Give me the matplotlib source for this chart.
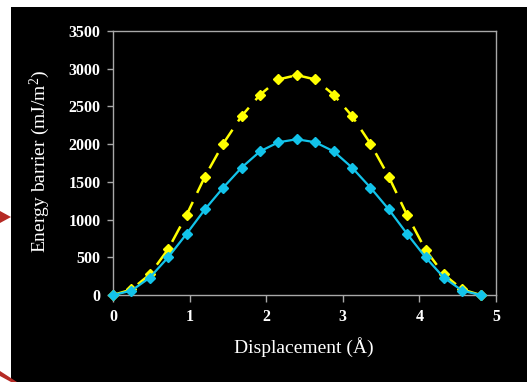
import matplotlib
matplotlib.use("Agg")
import matplotlib.pyplot as plt
from matplotlib.patches import Rectangle, Polygon

plt.rcParams["mathtext.fontset"] = "custom"
plt.rcParams["mathtext.rm"] = "Liberation Serif"
plt.rcParams["mathtext.default"] = "rm"

# displacement (Angstrom)
displacement = [0.0, 0.24, 0.48, 0.72, 0.96, 1.2, 1.44, 1.68, 1.92, 2.16, 2.4,
                2.64, 2.88, 3.12, 3.36, 3.6, 3.84, 4.08, 4.32, 4.56, 4.8]
# energy barrier (mJ/m^2)
barrier_yellow = [0, 73, 272, 608, 1060, 1570, 2008, 2374, 2655, 2858, 2915,
                  2858, 2655, 2374, 2008, 1568, 1058, 600, 272, 73, 0]
barrier_blue = [0, 57, 230, 500, 810, 1135, 1425, 1690, 1905, 2025, 2065,
                2025, 1905, 1690, 1425, 1135, 810, 500, 230, 57, 0]

xticks = [0, 1, 2, 3, 4, 5]
yticks = [0, 500, 1000, 1500, 2000, 2500, 3000, 3500]

W, H = 527, 382
fig = plt.figure(figsize=(W / 100, H / 100), dpi=100, facecolor="white")

# slide background bits
fig.patches.append(Rectangle((11 / W, 0), 1, 1 - 7 / H, transform=fig.transFigure,
                             facecolor="black", edgecolor="none", zorder=-5))
fig.patches.append(Polygon([(0, 1 - 211 / H), (11 / W, 1 - 217 / H), (0, 1 - 223 / H)],
                           closed=True, transform=fig.transFigure,
                           facecolor="#b52a25", edgecolor="none", zorder=-4))
fig.patches.append(Polygon([(0, 1 - 371 / H), (17 / W, 0), (11 / W, 0), (0, 1 - 376 / H)],
                           closed=True, transform=fig.transFigure,
                           facecolor="#b52a25", edgecolor="none", zorder=-4))

ax = fig.add_axes([113 / W, 1 - 295 / H, 383 / W, 264 / H])
ax.set_facecolor("black")

ax.plot(displacement, barrier_yellow, color="#ffff00", linestyle=(0, (7, 4)), linewidth=1.8,
        marker="D", markersize=5.5, markerfacecolor="#ffff00", markeredgecolor="#ffff00",
        clip_on=False, zorder=3)
ax.plot(displacement, barrier_blue, color="#12c3ea", linestyle="-", linewidth=1.6,
        marker="D", markersize=5.5, markerfacecolor="#12c3ea", markeredgecolor="#12c3ea",
        clip_on=False, zorder=4)

ax.set_xlim(0, 5)
ax.set_ylim(0, 3500)
ax.set_xticks(xticks)
ax.set_yticks(yticks)

for s in ax.spines.values():
    s.set_color("#a8a8a8")
    s.set_linewidth(1.0)

ax.tick_params(axis="both", colors="#a8a8a8", direction="out", length=4, width=1,
               labelcolor="white", labelsize=11.5)
ax.tick_params(axis="x", length=5, pad=5)
ax.tick_params(axis="y", pad=5)
for lab in ax.get_xticklabels() + ax.get_yticklabels():
    lab.set_fontfamily("Liberation Serif")
    lab.set_fontweight("bold")

fig.text(304 / W, 1 - 347 / H, "Displacement (Å)", color="white", fontsize=14,
         family="Liberation Serif", ha="center", va="center")
fig.text(40 / W, 1 - 161 / H, "Energy barrier (mJ/m$^{2}$)", color="white", fontsize=14,
         family="Liberation Serif", ha="center", va="center", rotation=90)

fig.savefig("out.png", dpi=100, facecolor=fig.get_facecolor())
